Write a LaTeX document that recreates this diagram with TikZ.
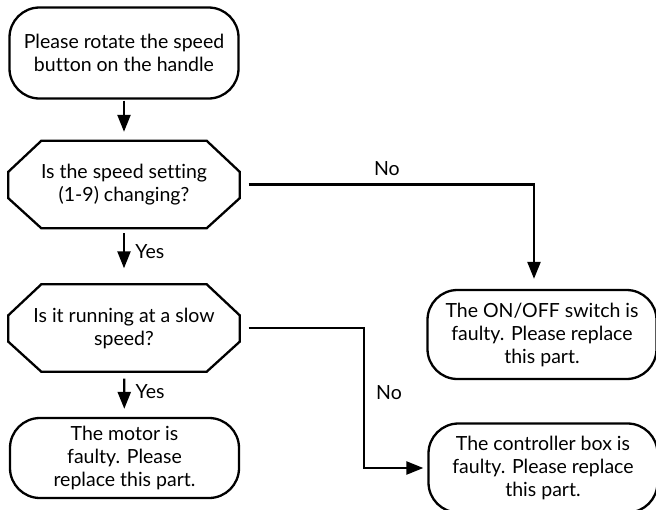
\documentclass[tikz,border=0pt]{standalone}
\usepackage{fontspec}
\setmainfont{Lato}[Ligatures=NoCommon]
\usetikzlibrary{arrows.meta}
\tikzset{
  endbox/.style={draw, line width=2.3pt, rounded corners=30pt, align=center,
    minimum width=229pt, inner sep=0pt},
  askbox/.style={align=center, minimum width=231pt, minimum height=87pt, inner sep=0pt},
  flow/.style={line width=2.3pt, -{Triangle[length=17pt,width=13pt]}}
}
\begin{document}
\begin{tikzpicture}[x=1pt,y=-1pt,font=\fontsize{19.5}{23}\selectfont]
      \useasboundingbox (0,0) rectangle (656,509);
      \draw
        (124,53) node[endbox, minimum height=91pt] (rotate){Please rotate the speed\\button on the handle}
        (124,184.5) node[askbox] (setting){Is the speed setting\\(1-9) changing?}
        (124,328) node[askbox] (slow){Is it running at a slow\\speed?}
        (124.5,458) node[endbox, minimum height=80pt] (motor){The motor is\\faulty. Please\\replace this part.}
        (542,334.5) node[endbox, minimum height=89pt] (switch){The ON/OFF switch is\\faulty. Please replace\\this part.}
        (543,468) node[endbox, minimum height=89pt] (controller){The controller box is\\faulty. Please replace\\this part.};
      \foreach \n in {setting,slow}
        \draw[line width=2.3pt, line join=miter]
          ([xshift=33pt]\n.north west) -- ([xshift=-33pt]\n.north east)
          -- ([yshift=-31pt]\n.north east) -- ([yshift=30pt]\n.south east)
          -- ([xshift=-33pt]\n.south east) -- ([xshift=33pt]\n.south west)
          -- ([yshift=30pt]\n.south west) -- ([yshift=-31pt]\n.north west) -- cycle;
      \begin{scope}[flow]
        \draw[shorten <=1pt, shorten >=9pt] (rotate) to (setting);
        \draw[shorten <=5pt, shorten >=16pt] (setting) to node[pos=0.42, right=7pt] {Yes} (slow);
        \draw[shorten <=7pt, shorten >=8pt] (slow) to node[pos=0.45, right=7pt] {Yes} (motor);
        \draw[shorten <=9pt, shorten >=10pt] (setting.east) -| node[pos=0.25, above=4pt] {No} ([xshift=-8pt]switch.north);
        \draw[shorten <=9pt, shorten >=4pt] (slow.east) -- ++(124,0) |- node[pos=0.23, right=8pt] {No} (controller.west);
      \end{scope}
    \end{tikzpicture}
\end{document}
